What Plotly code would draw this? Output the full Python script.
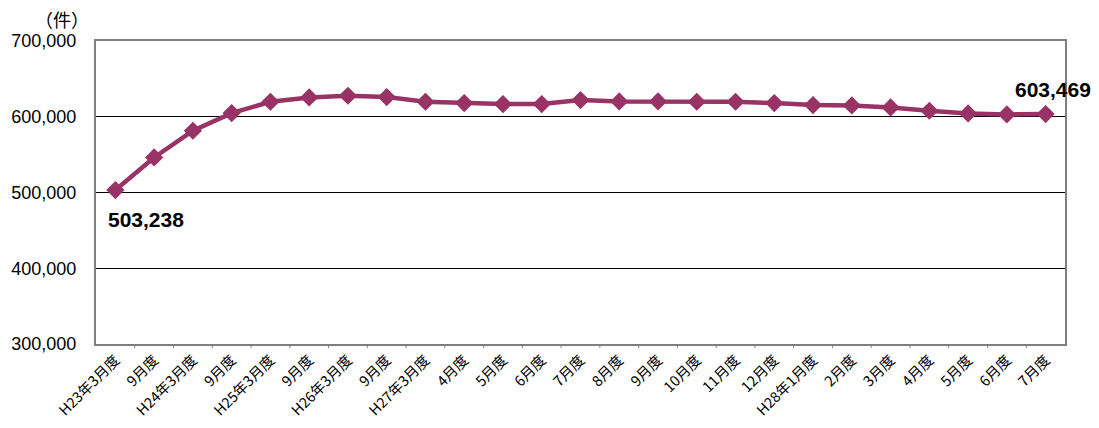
import plotly.graph_objects as go

categories = ["H23年3月度", "9月度", "H24年3月度", "9月度", "H25年3月度", "9月度",
              "H26年3月度", "9月度", "H27年3月度", "4月度", "5月度", "6月度", "7月度",
              "8月度", "9月度", "10月度", "11月度", "12月度", "H28年1月度", "2月度",
              "3月度", "4月度", "5月度", "6月度", "7月度"]
values = [503238, 546300, 581500, 604800, 619800, 625500, 627700, 626000, 619800,
          618000, 616700, 616700, 622000, 620200, 620200, 619800, 619800, 618000,
          615400, 615000, 612300, 607900, 604400, 603100, 603469]
y_ticks = [300000, 400000, 500000, 600000, 700000]
y_tick_labels = ["300,000", "400,000", "500,000", "600,000", "700,000"]

x_idx = list(range(len(categories)))

color = "#993366"
fig = go.Figure()
fig.add_trace(go.Scatter(
    x=x_idx, y=values, mode="lines+markers",
    line=dict(color=color, width=4.5),
    marker=dict(symbol="diamond", size=14, color=color),
    hoverinfo="skip", showlegend=False, cliponaxis=False,
))

fig.update_layout(
    width=1099, height=428,
    margin=dict(l=96, r=34, t=41, b=84),
    paper_bgcolor="white", plot_bgcolor="white",
    xaxis=dict(
        range=[-0.5, len(categories) - 0.5],
        tickmode="array", tickvals=x_idx, ticktext=categories,
        tickangle=-45, automargin=False,
        tickfont=dict(family="Noto Sans CJK JP", size=14.5, color="black"),
        showgrid=False, zeroline=False,
        showline=True, linecolor="#7f7f7f", linewidth=2, mirror=True,
        ticks="", fixedrange=True,
    ),
    yaxis=dict(
        range=[300000, 700000], automargin=False,
        tickmode="array", tickvals=y_ticks, ticktext=y_tick_labels,
        tickfont=dict(family="Liberation Sans, Arial", size=18, color="black"),
        ticklabelstandoff=14,
        showgrid=True, gridcolor="black", gridwidth=1,
        zeroline=False,
        showline=True, linecolor="#7f7f7f", linewidth=2, mirror=True,
        ticks="",
    ),
    annotations=[
        dict(x=0, y=values[0], xref="x", yref="y", text="<b>503,238</b>",
             showarrow=False, xshift=31, yshift=-29,
             font=dict(family="Liberation Sans, Arial", size=21, color="black")),
        dict(x=len(categories) - 1, y=values[-1], xref="x", yref="y", text="<b>603,469</b>",
             showarrow=False, xshift=7, yshift=25,
             font=dict(family="Liberation Sans, Arial", size=21, color="black")),
        dict(x=-0.035, y=1.0726, xref="paper", yref="paper", text="（件）",
             showarrow=False, xanchor="center", yanchor="middle",
             font=dict(family="Noto Sans CJK JP", size=18, color="black")),
    ],
)

# x tick marks at category boundaries
shapes = []
for i in range(1, len(categories)):
    shapes.append(dict(type="line", xref="x", yref="paper", x0=i - 0.5, x1=i - 0.5,
                       y0=0, y1=-0.013, line=dict(color="#7f7f7f", width=1)))
fig.update_layout(shapes=shapes)

fig.write_html("out.html", config={"displayModeBar": False},
               post_script="document.body.style.margin='0';")
